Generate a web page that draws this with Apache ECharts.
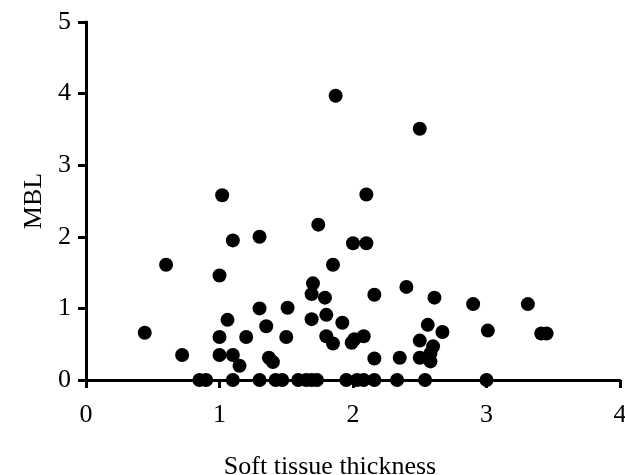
<!DOCTYPE html>
<html>
<head>
<meta charset="utf-8">
<script src="https://cdn.jsdelivr.net/npm/echarts@6/dist/echarts.min.js"></script>
<style>
  html, body { margin: 0; padding: 0; background: #fff; }
  #chart { width: 625px; height: 475px; }
</style>
</head>
<body>
<div id="chart"></div>
<script>
// soft tissue thickness (x) vs MBL (y)
var thickness = [
  0.44, 0.60, 0.72, 0.85, 0.90, 1.02, 1.00, 1.00, 1.00, 1.06,
  1.10, 1.10, 1.10, 1.15, 1.20, 1.30, 1.30, 1.30, 1.35, 1.37,
  1.40, 1.42, 1.47, 1.51, 1.50, 1.59, 1.65, 1.69, 1.73, 1.70,
  1.69, 1.69, 1.74, 1.79, 1.80, 1.80, 1.85, 1.85, 1.87, 1.92,
  1.95, 2.00, 1.99, 2.01, 2.08, 2.03, 2.08, 2.10, 2.10, 2.16,
  2.16, 2.16, 2.33, 2.35, 2.40, 2.50, 2.50, 2.50, 2.54, 2.56,
  2.58, 2.58, 2.60, 2.61, 2.67, 2.90, 3.00, 3.01, 3.31, 3.41,
  3.45
];
var mbl = [
  0.66, 1.61, 0.35, 0.00, 0.00, 2.58, 1.46, 0.60, 0.35, 0.84,
  1.95, 0.35, 0.00, 0.20, 0.60, 2.00, 1.00, 0.00, 0.75, 0.31,
  0.25, 0.00, 0.00, 1.01, 0.60, 0.00, 0.00, 0.00, 0.00, 1.35,
  1.20, 0.85, 2.17, 1.15, 0.91, 0.61, 0.51, 1.61, 3.97, 0.80,
  0.00, 1.91, 0.52, 0.57, 0.61, 0.00, 0.00, 2.59, 1.91, 1.19,
  0.30, 0.00, 0.00, 0.31, 1.30, 3.51, 0.55, 0.31, 0.00, 0.77,
  0.37, 0.26, 0.47, 1.15, 0.67, 1.06, 0.00, 0.69, 1.06, 0.65,
  0.65
];

var points = [];
for (var i = 0; i < thickness.length; i++) {
  points.push([thickness[i], mbl[i]]);
}

var font = "'Liberation Serif', 'DejaVu Serif', serif";
var chart = echarts.init(document.getElementById('chart'));

var axisCommon = {
  axisLine: { show: true, onZero: false, lineStyle: { color: '#000', width: 3 } },
  axisTick: { show: true, inside: false, length: 8, lineStyle: { color: '#000', width: 3 } },
  splitLine: { show: false }
};

var option = {
  animation: false,
  backgroundColor: '#fff',
  grid: { left: 86, right: 5, top: 22, bottom: 95, outerBoundsMode: 'none', containLabel: false },
  xAxis: Object.assign({}, axisCommon, {
    type: 'value',
    min: 0, max: 4, interval: 1,
    name: 'Soft tissue thickness',
    nameLocation: 'middle',
    nameGap: 74,
    nameTextStyle: { color: '#000', fontFamily: font, fontSize: 26, padding: [0, 46, 0, 0] },
    axisLabel: { color: '#000', fontFamily: font, fontSize: 26, margin: 22, showMaxLabel: true }
  }),
  yAxis: Object.assign({}, axisCommon, {
    type: 'value',
    min: 0, max: 5, interval: 1,
    name: 'MBL',
    nameLocation: 'middle',
    nameGap: 32,
    nameTextStyle: { color: '#000', fontFamily: font, fontSize: 26 },
    axisLabel: { color: '#000', fontFamily: font, fontSize: 26, margin: 15 }
  }),
  series: [{
    type: 'scatter',
    data: points,
    symbol: 'circle',
    symbolSize: 14,
    itemStyle: { color: '#000', opacity: 1 }
  }]
};

chart.setOption(option);
</script>
</body>
</html>
